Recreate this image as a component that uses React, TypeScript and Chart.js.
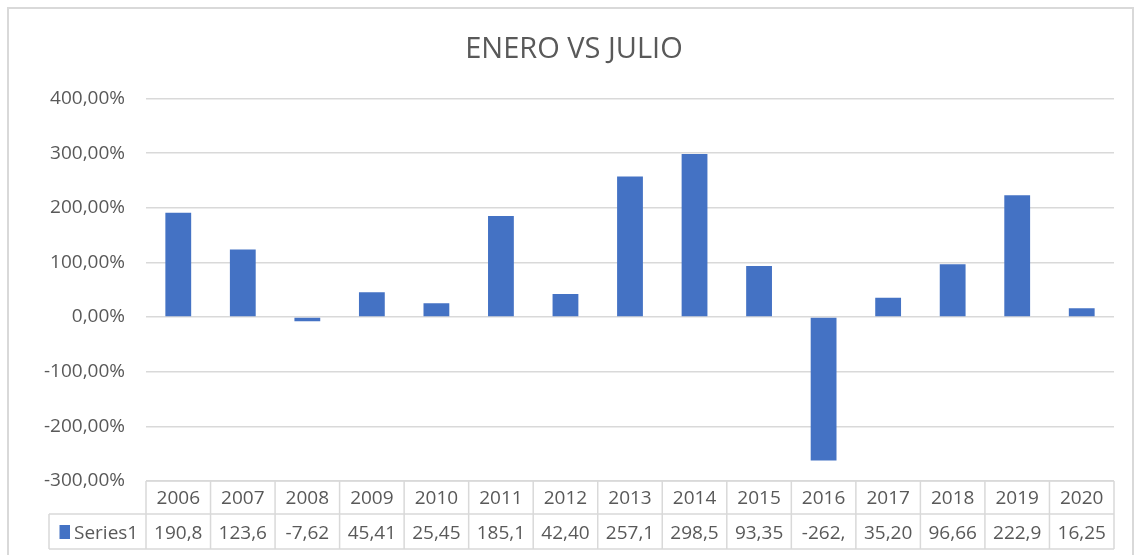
import React, { useEffect, useRef } from "react";
import { Chart, registerables } from "chart.js";

Chart.register(...registerables);

const chartTitle = "ENERO VS JULIO";
const seriesName = "Series1";
const years = ["2006", "2007", "2008", "2009", "2010", "2011", "2012", "2013", "2014", "2015", "2016", "2017", "2018", "2019", "2020"];
const values = [190.8, 123.6, -7.62, 45.41, 25.45, 185.1, 42.4, 257.1, 298.5, 93.35, -262.6, 35.2, 96.66, 222.9, 16.25];
const yMin = -300;
const yMax = 400;
const yStep = 100;

const FONT = "'Open Sans', 'Noto Sans', sans-serif";
const TEXT = "#595959";
const LINE = "#d9d9d9";
const BAR = "#4472c4";

const fmtTick = (v: number) => v.toFixed(2).replace(".", ",") + "%";
const fmtCell = (v: number) => v.toFixed(2).replace(".", ",").slice(0, 5);

const framePlugin = {
  id: "frame",
  beforeDraw(chart: any) {
    const ctx = chart.ctx;
    ctx.save();
    ctx.fillStyle = "#ffffff";
    ctx.fillRect(0, 0, chart.width, chart.height);
    ctx.strokeStyle = LINE;
    ctx.lineWidth = 2;
    ctx.beginPath();
    ctx.moveTo(8, chart.height);
    ctx.lineTo(8, 8);
    ctx.lineTo(1133, 8);
    ctx.lineTo(1133, chart.height);
    ctx.stroke();
    ctx.restore();
  },
};

const titleTablePlugin = {
  id: "titleTable",
  afterDraw(chart: any) {
    const ctx = chart.ctx;
    const xs = chart.scales.x;
    const area = chart.chartArea;
    const n = years.length;
    const colW = (area.right - area.left) / n;
    const top = area.bottom;
    const mid = top + 33;
    const bot = top + 68;
    const legLeft = 49;

    ctx.save();
    // title
    ctx.fillStyle = TEXT;
    ctx.font = `29px ${FONT}`;
    ctx.textAlign = "center";
    ctx.textBaseline = "alphabetic";
    ctx.fillText(chartTitle, 574, 58);

    // table lines
    ctx.strokeStyle = LINE;
    ctx.lineWidth = 1.5;
    ctx.beginPath();
    ctx.moveTo(area.left, top);
    ctx.lineTo(area.right, top);
    ctx.moveTo(legLeft, mid);
    ctx.lineTo(area.right, mid);
    ctx.moveTo(legLeft, bot);
    ctx.lineTo(area.right, bot);
    ctx.moveTo(legLeft, mid);
    ctx.lineTo(legLeft, bot);
    for (let i = 0; i <= n; i++) {
      const x = i < n ? xs.getPixelForValue(i) - colW / 2 : xs.getPixelForValue(n - 1) + colW / 2;
      ctx.moveTo(x, top);
      ctx.lineTo(x, bot);
    }
    ctx.stroke();

    // table text
    ctx.fillStyle = TEXT;
    ctx.font = `19px ${FONT}`;
    ctx.textAlign = "center";
    ctx.textBaseline = "alphabetic";
    for (let i = 0; i < n; i++) {
      const cx = xs.getPixelForValue(i);
      ctx.fillText(years[i], cx, top + 23);
      ctx.fillText(fmtCell(values[i]), cx, mid + 25);
    }
    // legend key
    ctx.fillStyle = BAR;
    ctx.fillRect(59.5, mid + 11, 10.5, 14);
    ctx.fillStyle = TEXT;
    ctx.textAlign = "left";
    ctx.fillText(seriesName, 74, mid + 25);
    ctx.restore();
  },
};

export default function App() {
  const ref = useRef<HTMLCanvasElement | null>(null);
  useEffect(() => {
    if (!ref.current) return;
    const chart = new Chart(ref.current, {
      type: "bar",
      data: {
        labels: years,
        datasets: [
          {
            label: seriesName,
            data: values,
            backgroundColor: BAR,
            borderWidth: 0,
            barPercentage: 0.4,
            categoryPercentage: 1,
          },
        ],
      },
      options: {
        animation: false,
        responsive: false,
        devicePixelRatio: 1,
        layout: { padding: { left: 0, right: 20, top: 98.5, bottom: 74 } },
        plugins: {
          legend: { display: false },
          title: { display: false },
          tooltip: { enabled: false },
        },
        scales: {
          x: { display: false },
          y: {
            min: yMin,
            max: yMax,
            afterFit(scale: any) {
              scale.width = 146;
            },
            ticks: {
              stepSize: yStep,
              padding: 21,
              color: TEXT,
              font: { family: FONT, size: 19 },
              callback: (v: any) => fmtTick(Number(v)),
            },
            grid: { color: LINE, lineWidth: 1.5, drawTicks: false },
            border: { display: false },
          },
        },
      },
      plugins: [framePlugin, titleTablePlugin],
    });
    return () => chart.destroy();
  }, []);
  return (
    <div style={{ position: "fixed", left: 0, top: 0, width: 1134, height: 555 }}>
      <canvas ref={ref} width={1134} height={555} style={{ display: "block" }} />
    </div>
  );
}
